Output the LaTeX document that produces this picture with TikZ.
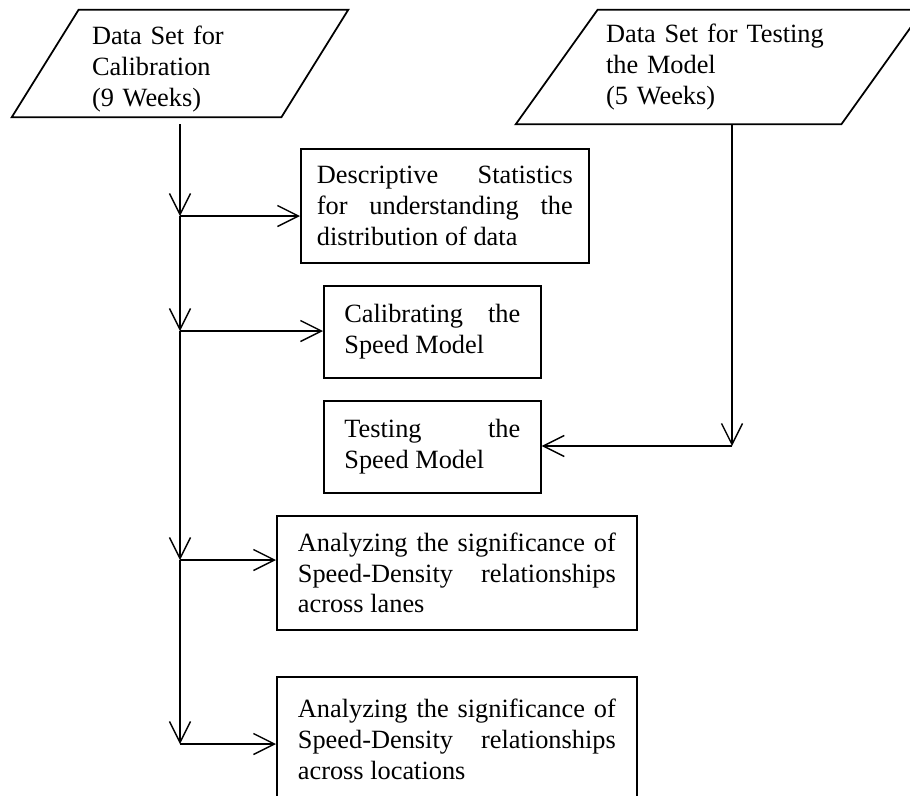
\documentclass[tikz,border=0pt]{standalone}
\usepackage{fontspec}
\setmainfont{Liberation Serif}
\usetikzlibrary{
    arrows.meta,
    positioning,
    shapes.geometric
}
\tolerance=10000

\begin{document}
\begin{tikzpicture}[
    x=0.02cm, y=-0.02cm,
    box/.style={rectangle, draw, line width=1pt, anchor=north west, inner sep=0pt, align=justify, font=\fontsize{15pt}{17.6pt}\selectfont},
    dataset/.style={rectangle, inner sep=0pt, align=left, font=\fontsize{15pt}{17.6pt}\selectfont},
    outline/.style={line width=1pt, line join=miter},
    arrow/.style={-{Straight Barb[length=4.2mm, width=4.2mm]}, line width=0.8pt}
]
\useasboundingbox (0,0) rectangle (910,795);

% Input data sets (parallelograms)
\node[dataset, minimum width=6.72cm, minimum height=2.14cm, text width=3.52cm, text height=17pt] (calib) at (180, 63.5) {Data Set for\\Calibration\\(9 Weeks)};
\draw[outline] ([xshift=1.34cm]calib.north west) -- (calib.north east) -- ([xshift=-1.34cm]calib.south east) -- (calib.south west) -- cycle;

\node[dataset, minimum width=8.14cm, minimum height=2.28cm, text width=4.54cm] (testset) at (719.5, 67) {Data Set for Testing\\the Model\\(5 Weeks)};
\draw[outline] ([xshift=1.64cm]testset.north west) -- (testset.north east) -- ([xshift=-1.64cm]testset.south east) -- (testset.south west) -- cycle;

% Analysis steps
\node[box, minimum width=5.76cm, minimum height=2.28cm, text width=5.12cm] (desc) at (300, 148) {Descriptive Statistics\linebreak for understanding the\linebreak distribution of data};
\node[box, minimum width=4.34cm, minimum height=1.84cm, text width=3.52cm] (calibrate) at (323, 285) {Calibrating the\linebreak Speed Model};
\node[box, minimum width=4.34cm, minimum height=1.84cm, text width=3.52cm] (testing) at (323, 400) {Testing the\linebreak Speed Model};
\node[box, minimum width=7.2cm, minimum height=2.28cm, text width=6.36cm] (lanes) at (276, 515) {Analyzing the significance of\linebreak Speed-Density relationships\linebreak across lanes};
\node[box, minimum width=7.2cm, minimum height=2.5cm, text width=6.36cm] (locations) at (276, 676) {Analyzing the significance of\linebreak Speed-Density relationships\linebreak across locations};

% Branch points
\coordinate (b1) at (180, 216);
\coordinate (b2) at (180, 331);
\coordinate (b3) at (180, 560);
\coordinate (b4) at (180, 744);
\coordinate (turn) at (732, 446);

% Main trunk
\draw[arrow, shorten <=0.14cm] (calib.south) -- (b1);
\draw[arrow] (b1) -- (b2);
\draw[arrow] (b2) -- (b3);
\draw[arrow] (b3) -- (b4);

% Branches
\draw[arrow] (b1) -- (b1 -| desc.west);
\draw[arrow] (b2) -- (b2 -| calibrate.west);
\draw[arrow] (b3) -- (b3 -| lanes.west);
\draw[arrow] (b4) -- (b4 -| locations.west);

% Testing data
\draw[arrow] (turn |- testset.south) -- (turn);
\draw[arrow] (turn) -- (turn -| testing.east);

\end{tikzpicture}
\end{document}
